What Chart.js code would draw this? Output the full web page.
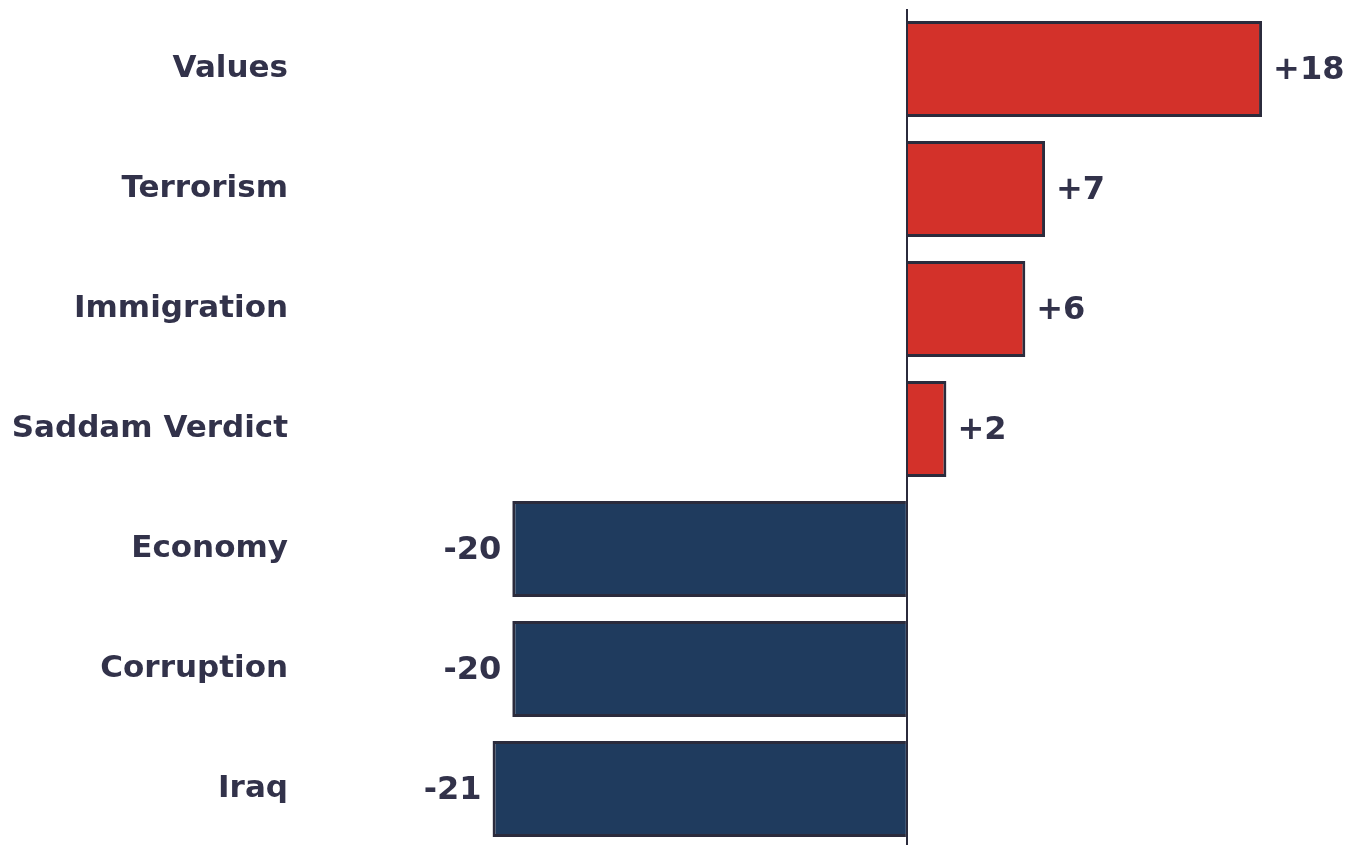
<!DOCTYPE html>
<html>
<head>
<meta charset="utf-8">
<script src="https://cdn.jsdelivr.net/npm/chart.js@4"></script>
<style>
  html, body { margin: 0; padding: 0; background: #fff; overflow: hidden; }
  #wrap { width: 1349px; height: 850px; position: relative; }
</style>
</head>
<body>
<div id="wrap"><canvas id="barChart"></canvas></div>
<script>
const categories = ['Values', 'Terrorism', 'Immigration', 'Saddam Verdict', 'Economy', 'Corruption', 'Iraq'];
const values = [18, 7, 6, 2, -20, -20, -21];
const valueLabels = ['+18', '+7', '+6', '+2', '-20', '-20', '-21'];

const RED = '#d3312a';
const BLUE = '#1f3b5e';
const TEXT = '#32324a';

// value labels next to each bar end
const barLabels = {
    id: 'barLabels',
    afterDatasetsDraw(chart) {
        const ctx = chart.ctx;
        const meta = chart.getDatasetMeta(0);
        ctx.save();
        ctx.font = 'bold 32px "DejaVu Sans", Verdana, sans-serif';
        ctx.fillStyle = TEXT;
        ctx.textBaseline = 'middle';
        meta.data.forEach((bar, i) => {
            if (values[i] >= 0) {
                ctx.textAlign = 'left';
                ctx.fillText(valueLabels[i], bar.x + 11, bar.y + 2);
            } else {
                ctx.textAlign = 'right';
                ctx.fillText(valueLabels[i], bar.x - 11, bar.y + 2);
            }
        });
        ctx.restore();
    }
};

const ctx = document.getElementById('barChart').getContext('2d');
new Chart(ctx, {
    type: 'bar',
    data: {
        labels: categories,
        datasets: [{
            data: values,
            backgroundColor: values.map(v => v >= 0 ? RED : BLUE),
            borderColor: '#2b2b3c',
            borderWidth: 3,
            borderSkipped: 'start',
            categoryPercentage: 1,
            barPercentage: 0.8
        }]
    },
    options: {
        indexAxis: 'y',
        responsive: true,
        maintainAspectRatio: false,
        animation: false,
        layout: { padding: { left: 0, right: 8, top: 9, bottom: 1 } },
        scales: {
            x: {
                min: -30,
                max: 22,
                ticks: { display: false },
                border: { display: false },
                afterFit: scale => { scale.height = 0; },
                grid: {
                    drawTicks: false,
                    lineWidth: 2,
                    color: c => c.tick && c.tick.value === 0 ? '#2b2b3c' : 'rgba(0,0,0,0)'
                }
            },
            y: {
                grid: { display: false },
                border: { display: false },
                afterFit: scale => {
                    scale.width = 315;
                    scale.paddingTop = 0;
                    scale.paddingBottom = 0;
                },
                ticks: {
                    color: TEXT,
                    padding: 19,
                    font: { family: '"DejaVu Sans", Verdana, sans-serif', size: 31, weight: 'bold' }
                }
            }
        },
        plugins: {
            legend: { display: false },
            tooltip: { enabled: false }
        }
    },
    plugins: [barLabels]
});
</script>
</body>
</html>
